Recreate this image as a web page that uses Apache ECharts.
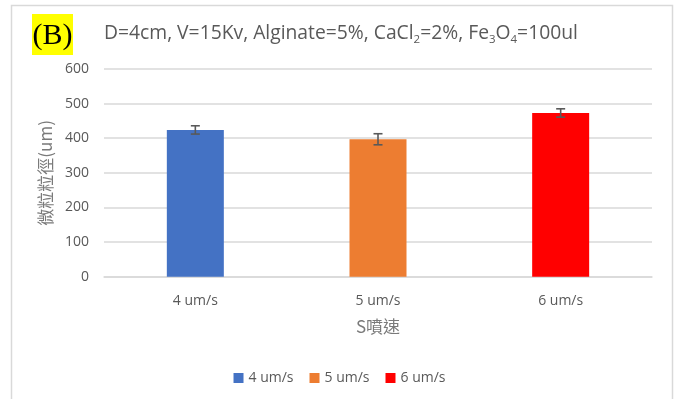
<!DOCTYPE html>
<html>
<head>
<meta charset="utf-8">
<script src="https://cdn.jsdelivr.net/npm/echarts@6/dist/echarts.min.js"></script>
<style>
  html, body { margin: 0; padding: 0; background: #ffffff; }
  #chart { width: 679px; height: 399px; }
</style>
</head>
<body>
<div id="chart"></div>
<script>
// Mean particle diameter (um) per spray speed, with +/- error
const categories = ['4 um/s', '5 um/s', '6 um/s'];
const seriesNames = ['4 um/s', '5 um/s', '6 um/s'];
const meanDiameter = [424, 397, 473];
const errorMargin = [12, 16, 12];
const barColors = ['#4472c4', '#ed7d31', '#ff0000'];
const yTicks = { min: 0, max: 600, interval: 100 };

const TEXT = '#595959';
const LATIN = '"Open Sans", "Noto Sans", sans-serif';
const CJK = '"Noto Sans CJK TC", "Noto Sans CJK SC", sans-serif';

const chart = echarts.init(document.getElementById('chart'), null, { renderer: 'canvas' });

// one bar series per speed, all overlapping at the category centre
const barSeries = seriesNames.map((name, i) => ({
  name: name,
  type: 'bar',
  barWidth: 57,
  barGap: '-100%',
  itemStyle: { color: barColors[i] },
  data: categories.map((c, j) => (j === i ? meanDiameter[j] : '-'))
}));

const errorData = categories.map((c, j) => [j, meanDiameter[j] - errorMargin[j], meanDiameter[j] + errorMargin[j]]);

const errorSeries = {
  type: 'custom',
  name: 'error',
  z: 10,
  silent: true,
  data: errorData,
  renderItem: function (params, api) {
    const x = api.value(0);
    const lo = api.coord([x, api.value(1)]);
    const hi = api.coord([x, api.value(2)]);
    const half = 4.5;
    const style = { stroke: TEXT, lineWidth: 1.6, fill: null };
    return {
      type: 'group',
      children: [
        { type: 'line', shape: { x1: hi[0], y1: hi[1], x2: lo[0], y2: lo[1] }, style: style },
        { type: 'line', shape: { x1: hi[0] - half, y1: hi[1], x2: hi[0] + half, y2: hi[1] }, style: style },
        { type: 'line', shape: { x1: lo[0] - half, y1: lo[1], x2: lo[0] + half, y2: lo[1] }, style: style }
      ]
    };
  }
};

const option = {
  backgroundColor: '#ffffff',
  animation: false,
  title: {
    left: 99,
    top: 16,
    text: '{n|D=4cm, V=15Kv, Alginate=5%, CaCl}{s|2}{n|=2%, Fe}{s|3}{n|O}{s|4}{n|=100ul}',
    textStyle: {
      fontWeight: 'normal',
      rich: {
        n: { fontSize: 19.3, fontWeight: 'normal', color: TEXT, fontFamily: LATIN, lineHeight: 22, verticalAlign: 'bottom' },
        s: { fontSize: 11.5, fontWeight: 'normal', color: TEXT, fontFamily: LATIN, lineHeight: 12, verticalAlign: 'bottom', padding: [0, 0, -3, 0] }
      }
    }
  },
  graphic: [
    {
      type: 'rect',
      shape: { x: 11.5, y: 5.5, width: 661, height: 420 },
      style: { fill: null, stroke: '#d9d9d9', lineWidth: 1.5 },
      z: 0
    },
    {
      type: 'rect',
      shape: { x: 32, y: 14, width: 41, height: 41 },
      style: { fill: '#ffff00' },
      z: 1
    },
    {
      type: 'text',
      x: 52.5,
      y: 36,
      z: 2,
      style: {
        text: '(B)',
        fill: '#000000',
        font: '30px "Liberation Serif", "DejaVu Serif", serif',
        align: 'center',
        verticalAlign: 'middle'
      }
    }
  ],
  legend: {
    data: seriesNames,
    left: 'center',
    top: 366,
    icon: 'rect',
    itemWidth: 10,
    itemHeight: 10,
    itemGap: 16,
    textStyle: { color: TEXT, fontSize: 14, fontFamily: LATIN }
  },
  grid: { left: 104, right: 27, top: 69, bottom: 122.3, containLabel: false },
  xAxis: {
    type: 'category',
    data: categories,
    axisLine: { lineStyle: { color: '#d9d9d9', width: 1.5 } },
    axisTick: { show: false },
    axisLabel: { color: TEXT, fontSize: 14, fontFamily: LATIN, margin: 17 },
    name: 'S噴速',
    nameLocation: 'middle',
    nameGap: 41,
    nameTextStyle: { color: '#7a7a7a', fontSize: 17, fontFamily: CJK }
  },
  yAxis: {
    type: 'value',
    min: yTicks.min,
    max: yTicks.max,
    interval: yTicks.interval,
    axisLine: { show: false },
    axisTick: { show: false },
    splitLine: { lineStyle: { color: '#d9d9d9', width: 1.5 } },
    axisLabel: { color: TEXT, fontSize: 14, fontFamily: LATIN, margin: 15 },
    name: '微粒粒徑(um)',
    nameLocation: 'middle',
    nameGap: 50,
    nameTextStyle: { color: '#7a7a7a', fontSize: 17, fontFamily: CJK }
  },
  series: barSeries.concat([errorSeries])
};

chart.setOption(option);
</script>
</body>
</html>
